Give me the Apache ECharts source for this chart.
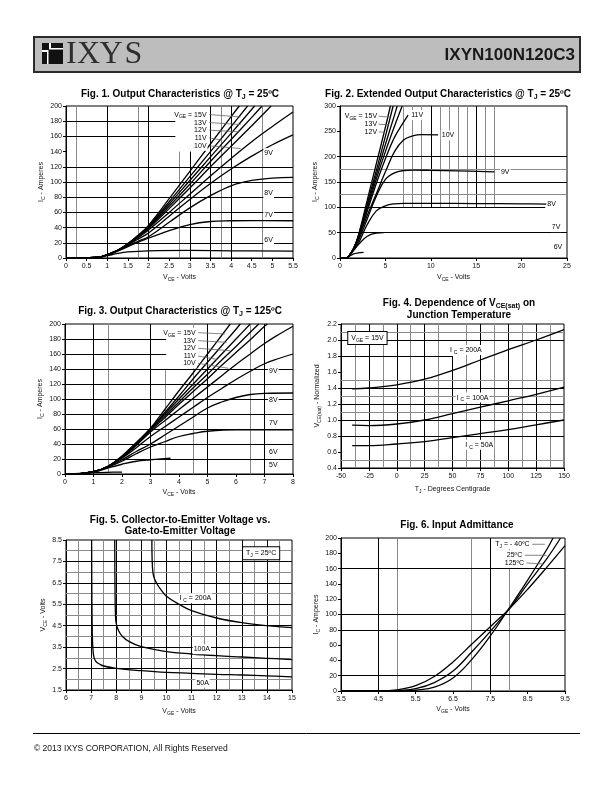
<!DOCTYPE html>
<html>
<head>
<meta charset="utf-8">
<title>IXYN100N120C3</title>
<script src="https://cdn.jsdelivr.net/npm/echarts@6/dist/echarts.min.js"></script>
<style>
html,body{margin:0;padding:0;background:#fff;}
#chart{width:612px;height:792px;}
</style>
</head>
<body>
<div id="chart"></div>
<script>
// ================= DATA =================
// Axis ranges [min, max, interval]
const fig1X = [0, 5.5, 0.5],  fig1Y = [0, 200, 20];
const fig2X = [0, 25, 5],     fig2Y = [0, 300, 50];
const fig3X = [0, 8, 1],      fig3Y = [0, 200, 20];
const fig4X = [-50, 150, 25], fig4Y = [0.4, 2.2, 0.2];
const fig5X = [6, 15, 1],     fig5Y = [1.5, 8.5, 1];
const fig6X = [3.5, 9.5, 1],  fig6Y = [0, 200, 20];

// Fig.1 Output Characteristics @ TJ = 25C  [VCE, IC]
const fig1_vge15 = [[0,0],[0.5,0.3],[0.8,1],[1,4.5],[1.25,10],[1.5,19],[1.75,30],[2,43],[2.5,78],[3,114],[3.5,150],[4,186],[4.2,200]];
const fig1_vge14 = [[0,0],[0.5,0.3],[0.8,1],[1,4.5],[1.25,10],[1.5,19],[1.75,30],[2,42],[2.5,74],[3,107],[3.5,140],[4,173],[4.4,200]];
const fig1_vge13 = [[0,0],[0.5,0.3],[0.8,1],[1,4.5],[1.25,10],[1.5,18.5],[1.75,29],[2,41],[2.5,71],[3,102],[3.5,133],[4,164],[4.57,200]];
const fig1_vge12 = [[0,0],[0.5,0.3],[0.8,1],[1,4.5],[1.25,10],[1.5,18],[1.75,28.5],[2,40],[2.5,68],[3,97],[3.5,127],[4,156],[4.5,185],[4.75,200]];
const fig1_vge11 = [[0,0],[0.5,0.3],[0.8,1],[1,4.5],[1.25,10],[1.5,18],[1.75,28],[2,39],[2.5,65],[3,92],[3.5,120],[4,147],[4.5,174],[4.97,200]];
const fig1_vge10 = [[0,0],[0.5,0.3],[0.8,1],[1,4.5],[1.25,10],[1.5,17.5],[1.75,27],[2,37],[2.5,60],[3,84],[3.5,108],[4,131],[4.5,153],[5,173],[5.5,192]];
const fig1_vge9  = [[0,0],[0.5,0.3],[0.8,1],[1,4.5],[1.25,9.5],[1.5,17],[1.75,25],[2,33],[2.5,55],[3,77],[3.5,98],[4,117],[4.5,134],[5,149],[5.5,162]];
const fig1_vge8  = [[0,0],[0.5,0.3],[0.8,1],[1,4.5],[1.25,9.5],[1.5,16],[1.75,22],[2,28],[2.5,47],[3,66],[3.5,82],[4,95],[4.5,102],[5,105],[5.5,106]];
const fig1_vge7  = [[0,0],[0.5,0.3],[0.8,1],[1,4],[1.25,9],[1.5,15],[1.75,21],[2,26],[2.5,36],[3,44],[3.5,48],[4,49],[4.5,49.3],[5.5,49]];
const fig1_vge6  = [[0,0],[0.5,0.3],[0.8,0.8],[1,3],[1.25,6],[1.5,8],[2,9.5],[3,10],[4,9.5],[5.5,9]];

// Fig.2 Extended Output Characteristics @ TJ = 25C
const fig2_vge15 = [[0,0],[0.5,0.3],[0.8,1],[1,4.5],[1.5,19],[2,43],[3,114],[4,186],[5,258],[5.55,300]];
const fig2_vge14 = [[0,0],[0.5,0.3],[0.8,1],[1,4.5],[1.5,19],[2,42],[3,107],[4,173],[5,240],[5.85,300]];
const fig2_vge13 = [[0,0],[0.5,0.3],[0.8,1],[1,4.5],[1.5,18.5],[2,41],[3,102],[4,164],[5,224],[6,282],[6.3,300]];
const fig2_vge12 = [[0,0],[0.5,0.3],[0.8,1],[1,4.5],[1.5,18],[2,40],[3,97],[4,156],[5,210],[6,260],[6.85,300]];
const fig2_vge11 = [[0,0],[0.5,0.3],[0.8,1],[1,4.5],[1.5,18],[2,39],[3,92],[4,147],[5,196],[6,238],[7,268],[7.5,282]];
const fig2_vge10 = [[0,0],[0.5,0.3],[0.8,1],[1,4.5],[1.5,17.5],[2,37],[3,84],[4,127],[5,170],[6,210],[7,233],[8,241],[9,243.5],[10.8,243]];
const fig2_vge9  = [[0,0],[0.5,0.3],[0.8,1],[1,4.5],[1.5,17],[2,33],[3,77],[4,122],[5,155],[6,168],[7,172.5],[8,173.5],[10,173],[13,172],[17,170]];
const fig2_vge8  = [[0,0],[0.5,0.3],[0.8,1],[1,4.5],[1.5,16],[2,28],[3,66],[4,93],[5,103],[6,107],[7,108],[10,108],[15,107.5],[20,107],[23,106.5]];
const fig2_vge7  = [[0,0],[0.5,0.3],[0.8,1],[1,4],[1.5,15],[2,26],[3,43],[4,49],[4.8,50]];
const fig2_vge6  = [[0,0],[0.5,0.3],[0.8,0.8],[1,3],[1.5,8],[2,10],[2.6,11]];

// Fig.3 Output Characteristics @ TJ = 125C
const fig3_vge15 = [[0,0],[0.5,0.5],[1,3],[1.5,10],[2,24],[2.5,42],[3,61],[3.5,86],[4,111],[4.5,135],[5,160],[5.5,185],[5.8,200]];
const fig3_vge14 = [[0,0],[0.5,0.5],[1,3],[1.5,10],[2,23.5],[2.5,41],[3,60],[3.5,82],[4,104],[4.5,127],[5,149],[5.5,171],[6,193],[6.15,200]];
const fig3_vge13 = [[0,0],[0.5,0.5],[1,3],[1.5,10],[2,23],[2.5,41],[3,60],[3.5,80],[4,100],[4.5,120],[5,140],[5.5,160],[6,180],[6.5,200]];
const fig3_vge12 = [[0,0],[0.5,0.5],[1,3],[1.5,10],[2,23],[2.5,40],[3,59],[3.5,77.5],[4,96],[4.5,115],[5,133],[5.5,152],[6,170],[6.5,189],[6.8,200]];
const fig3_vge11 = [[0,0],[0.5,0.5],[1,3],[1.5,10],[2,22.5],[2.5,39],[3,58],[3.5,75],[4,93],[4.5,110],[5,127],[5.5,145],[6,162],[6.5,179],[7,197],[7.1,200]];
const fig3_vge10 = [[0,0],[0.5,0.5],[1,3],[1.5,10],[2,22],[2.5,38],[3,56],[3.5,71],[4,86],[4.5,101],[5,116],[5.5,131],[6,146],[6.5,160],[7,174],[7.5,186],[8,197]];
const fig3_vge9  = [[0,0],[0.5,0.5],[1,3],[1.5,10],[2,21],[2.5,35],[3,50],[3.5,63],[4,76],[4.5,89],[5,102],[5.5,114],[6,126],[6.5,137],[7,147],[7.5,154],[8,160]];
const fig3_vge8  = [[0,0],[0.5,0.5],[1,3],[1.5,9],[2,19],[2.5,30],[3,40],[3.5,52],[4,64],[4.5,76],[5,88],[5.5,96],[6,102],[6.5,106],[7,107.5],[8,108]];
const fig3_vge7  = [[0,0],[0.5,0.5],[1,3],[1.5,9],[2,17],[2.5,27],[3,36],[3.5,43],[4,50],[4.5,54],[5,57],[6,59],[8,59]];
const fig3_vge6  = [[0,0],[0.5,0.5],[1,2.5],[1.5,8],[2,13],[2.5,17],[3,19],[3.5,20.5],[3.7,21]];
const fig3_vge5  = [[0,0],[0.5,0.8],[1,1.8],[1.5,2.3],[2,2.5]];

// Fig.4 VCE(sat) normalized vs TJ  [TJ, normalized]
const fig4_ic200 = [[-40,1.39],[-25,1.40],[0,1.44],[25,1.51],[50,1.62],[75,1.75],[100,1.88],[125,2.00],[150,2.13]];
const fig4_ic100 = [[-40,0.935],[-25,0.93],[0,0.95],[25,1.00],[50,1.08],[75,1.16],[100,1.24],[125,1.32],[150,1.41]];
const fig4_ic50  = [[-40,0.68],[-25,0.68],[0,0.70],[25,0.73],[50,0.78],[75,0.83],[100,0.88],[125,0.94],[150,1.00]];

// Fig.5 VCE vs VGE  [VGE, VCE]
const fig5_ic200 = [[9.42,8.5],[9.43,7.6],[9.46,7.0],[9.52,6.7],[9.65,6.4],[9.8,6.15],[10,5.88],[10.5,5.5],[11,5.2],[12,4.86],[13,4.64],[14,4.5],[15,4.41]];
const fig5_ic100 = [[7.94,8.5],[7.95,6.5],[7.97,5.0],[8.0,4.6],[8.1,4.25],[8.25,4.0],[8.5,3.77],[9,3.52],[10,3.29],[11,3.18],[12,3.10],[13,3.04],[14,2.98],[15,2.92]];
const fig5_ic50  = [[7.02,8.5],[7.03,6],[7.05,4.0],[7.08,3.3],[7.12,3.0],[7.2,2.82],[7.35,2.7],[7.5,2.62],[8,2.51],[9,2.40],[10,2.32],[11,2.28],[12,2.23],[13,2.20],[14,2.16],[15,2.11]];

// Fig.6 Input admittance  [VGE, IC]
const fig6_tjm40 = [[3.5,0],[5.2,0],[5.5,1],[6,5],[6.5,17],[7,41],[7.5,72],[8,108],[8.5,145],[9,184],[9.18,200]];
const fig6_tj25  = [[3.5,0],[4.8,0],[5,0.5],[5.5,3],[6,11],[6.5,26],[7,51],[7.5,78],[8,107],[8.5,140],[9,172],[9.38,200]];
const fig6_tj125 = [[3.5,0],[4.5,0],[5,1.5],[5.5,7],[6,19],[6.5,38],[7,61],[7.5,84],[8,107],[8.5,133],[9,161],[9.5,190]];

// ================= STYLE / LAYOUT =================
const NF = '"Liberation Sans", Arial, sans-serif';
const TF = '"Liberation Sans Narrow", "Arial Narrow", "Liberation Sans", Arial, sans-serif';
const INK = '#111';
const GRAY = '#8a8a8a';

const rich = {
  n: {fontSize: 7, fontFamily: NF, color: INK, lineHeight: 10},
  s: {fontSize: 5, fontFamily: NF, color: INK, lineHeight: 4, verticalAlign: 'bottom'}
};
const trich = {
  t: {fontSize: 10, fontWeight: 'bold', fontFamily: TF, color: '#000', lineHeight: 13},
  ts: {fontSize: 7, fontWeight: 'bold', fontFamily: TF, color: '#000', lineHeight: 5, verticalAlign: 'bottom'}
};

const gridBoxes = [
  {left: 66,  top: 106, width: 227, height: 152},
  {left: 340, top: 106, width: 227, height: 152},
  {left: 65,  top: 324, width: 228, height: 150},
  {left: 341, top: 324, width: 223, height: 144},
  {left: 66,  top: 540, width: 226, height: 150},
  {left: 341, top: 538, width: 224, height: 153}
];

const ranges = [[fig1X, fig1Y], [fig2X, fig2Y], [fig3X, fig3Y], [fig4X, fig4Y], [fig5X, fig5Y], [fig6X, fig6Y]];
const xNames = ['{n|V}{s|CE}{n| - Volts}', '{n|V}{s|CE}{n| - Volts}', '{n|V}{s|CE}{n| - Volts}',
  '{n|T}{s|J}{n| - Degrees Centigrade}', '{n|V}{s|GE}{n| - Volts}', '{n|V}{s|GE}{n| - Volts}'];
const yNames = ['{n|I}{s|C}{n| - Amperes}', '{n|I}{s|C}{n| - Amperes}', '{n|I}{s|C}{n| - Amperes}',
  '{n|V}{s|CE(sat)}{n| - Normalized}', '{n|V}{s|CE}{n| - Volts}', '{n|I}{s|C}{n| - Amperes}'];
const xGaps = [14, 14, 13, 16, 16, 13];
const yGaps = [20, 16, 19, 19, 18, 18];
const yFormat = [null, null, null, v => v.toFixed(1), v => v.toFixed(1), null];

// grid-line spec: [direction, value, colour(k/g), from, to]
const fig1Lines = [
  ...[1, 2, 3.5, 4].map(v => ['v', v, 'k']),
  ...[0.25, 1.75, 3.75, 4.75].map(v => ['v', v, 'g']),
  ['v', 3, 'k', 0, 140], ['v', 2.75, 'g', 0, 140],
  ...[20, 40, 60, 80, 100, 120].map(v => ['h', v, 'k']),
  ['h', 160, 'k', 0, 2.65], ['h', 180, 'k', 0, 2.65]
];
const fig2Lines = [
  ...[7, 8, 9, 11, 12, 13, 14, 16, 17].map(v => ['v', v, 'g', 100, 300]),
  ...[10, 15].map(v => ['v', v, 'k', 100, 300]),
  ...[200, 150, 50].map(v => ['h', v, 'k']),
  ['h', 100, 'k', 0, 22.6],
  ...[175, 125].map(v => ['h', v, 'g'])
];
const fig3Lines = [
  ...[1, 3, 5, 7].map(v => ['v', v, 'k']),
  ...[1.5, 4.5, 6.5].map(v => ['v', v, 'g']),
  ['v', 3.5, 'g', 0, 140],
  ...[20, 40, 60, 80, 100, 120, 140].map(v => ['h', v, 'k']),
  ['h', 160, 'k', 0, 3.55], ['h', 180, 'k', 0, 3.55]
];
const fig4Lines = [
  ...[-25, 0, 25, 75, 100, 125].map(v => ['v', v, 'k']),
  ['v', 50, 'k', 0.4, 1.8],
  ...[-37.5, -12.5, 12.5, 37.5, 62.5, 87.5, 112.5, 137.5].map(v => ['v', v, 'g']),
  ...[0.8, 1.0, 1.2, 1.4, 2.0].map(v => ['h', v, 'k']),
  ['h', 1.8, 'k', -50, 50],
  ...[0.5, 1.1, 1.3, 1.5, 2.1].map(v => ['h', v, 'g'])
];
const fig5Lines = [
  ...[7, 8, 9, 10, 11, 12, 13, 14].map(v => ['v', v, 'k']),
  ...[6.5, 7.5, 8.5, 9.5, 10.5, 11.5, 12.5, 13.5, 14.5].map(v => ['v', v, 'g']),
  ...[2.5, 3.5, 4.5, 5.5, 6.5, 7.5].map(v => ['h', v, 'k']),
  ...[2, 3, 4, 5, 6, 7, 8].map(v => ['h', v, 'g'])
];
const fig6Lines = [
  ...[4.5, 7.5].map(v => ['v', v, 'k']),
  ...[5, 7, 8].map(v => ['v', v, 'g']),
  ...[20, 80, 100, 160].map(v => ['h', v, 'k'])
];
const allLines = [fig1Lines, fig2Lines, fig3Lines, fig4Lines, fig5Lines, fig6Lines];

const allCurves = [
  [fig1_vge15, fig1_vge14, fig1_vge13, fig1_vge12, fig1_vge11, fig1_vge10, fig1_vge9, fig1_vge8, fig1_vge7, fig1_vge6],
  [fig2_vge15, fig2_vge14, fig2_vge13, fig2_vge12, fig2_vge11, fig2_vge10, fig2_vge9, fig2_vge8, fig2_vge7, fig2_vge6],
  [fig3_vge15, fig3_vge14, fig3_vge13, fig3_vge12, fig3_vge11, fig3_vge10, fig3_vge9, fig3_vge8, fig3_vge7, fig3_vge6, fig3_vge5],
  [fig4_ic200, fig4_ic100, fig4_ic50],
  [fig5_ic200, fig5_ic100, fig5_ic50],
  [fig6_tjm40, fig6_tj25, fig6_tj125]
];

// ================= BUILD =================
const grid = gridBoxes.map(b => Object.assign({show: true, borderColor: '#000', borderWidth: 1,
  backgroundColor: 'transparent', containLabel: false, outerBoundsMode: 'none'}, b));

const xAxis = ranges.map(([xr], i) => ({
  type: 'value', gridIndex: i, min: xr[0], max: xr[1], interval: xr[2],
  axisLine: {show: true, onZero: false, lineStyle: {color: '#000', width: 1}},
  axisTick: {show: true, length: 3, lineStyle: {color: '#000'}},
  axisLabel: {fontSize: 7, fontFamily: NF, color: INK, margin: 5, showMinLabel: true, showMaxLabel: true},
  splitLine: {show: false},
  name: xNames[i], nameLocation: 'middle', nameGap: xGaps[i],
  nameTextStyle: {rich: rich, fontSize: 7, color: INK}
}));
const yAxis = ranges.map(([, yr], i) => ({
  type: 'value', gridIndex: i, min: yr[0], max: yr[1], interval: yr[2],
  axisLine: {show: true, onZero: false, lineStyle: {color: '#000', width: 1}},
  axisTick: {show: true, length: 3, lineStyle: {color: '#000'}},
  axisLabel: Object.assign({fontSize: 7, fontFamily: NF, color: INK, margin: 4, showMinLabel: true, showMaxLabel: true},
    yFormat[i] ? {formatter: yFormat[i]} : {}),
  splitLine: {show: false},
  name: yNames[i], nameLocation: 'middle', nameGap: yGaps[i], nameRotate: 90,
  nameTextStyle: {rich: rich, fontSize: 7, color: INK}
}));

const series = [];
allLines.forEach((spec, i) => {
  const [xr, yr] = ranges[i];
  const data = spec.map(([d, v, c, a, b]) => {
    const ls = {color: c === 'k' ? '#000' : GRAY, width: 1, type: 'solid'};
    if (d === 'v') return [{coord: [v, a ?? yr[0]], lineStyle: ls}, {coord: [v, b ?? yr[1]]}];
    return [{coord: [a ?? xr[0], v], lineStyle: ls}, {coord: [b ?? xr[1], v]}];
  });
  series.push({
    type: 'line', xAxisIndex: i, yAxisIndex: i, data: [], z: 1, silent: true, animation: false,
    markLine: {silent: true, symbol: ['none', 'none'], animation: false, label: {show: false},
      lineStyle: {type: 'solid', width: 1}, emphasis: {disabled: true}, data: data}
  });
});
allCurves.forEach((list, i) => {
  list.forEach(d => series.push({
    type: 'line', xAxisIndex: i, yAxisIndex: i, data: d, showSymbol: false, symbol: 'none',
    smooth: 0.4,
    lineStyle: {color: '#000', width: 1.3}, z: 5, silent: true, animation: false, clip: true
  }));
});

const chart = echarts.init(document.getElementById('chart'), null, {renderer: 'canvas', width: 612, height: 792});
chart.setOption({animation: false, grid, xAxis, yAxis, series});

// ================= ANNOTATIONS =================
const VGE = '{n|V}{s|GE}{n| = 15V}';
const fig1Labels = [
  [3.43, 188.7, VGE, 'right'], [3.43, 178.2, '{n|13V}', 'right'], [3.43, 168.2, '{n|12V}', 'right'],
  [3.43, 158, '{n|11V}', 'right'], [3.43, 147.6, '{n|10V}', 'right'],
  [4.91, 138, '{n|9V}'], [4.91, 85.5, '{n|8V}'], [4.91, 56.7, '{n|7V}'], [4.91, 24, '{n|6V}']
];
const fig1Leaders = [[3.47, 188.7, 4.23, 185.6], [3.47, 178.2, 4.23, 175.6], [3.47, 168.2, 4.19, 166], [3.47, 158, 3.78, 155], [3.47, 147.6, 4.23, 144]];
const fig2Labels = [
  [4.19, 279.8, VGE, 'right'], [4.19, 264, '{n|13V}', 'right'], [4.19, 249, '{n|12V}', 'right'],
  [8.5, 282, '{n|11V}'], [11.9, 242, '{n|10V}'], [18.2, 169, '{n|9V}'], [23.3, 107, '{n|8V}'],
  [23.8, 61, '{n|7V}'], [24.0, 21.6, '{n|6V}']
];
const fig2Leaders = [[4.25, 279.8, 5.55, 278], [4.25, 264, 5.35, 263], [4.25, 249, 4.95, 248]];
const fig3Labels = [
  [4.62, 188.4, VGE, 'right'], [4.62, 177.8, '{n|13V}', 'right'], [4.62, 167.6, '{n|12V}', 'right'],
  [4.62, 157.3, '{n|11V}', 'right'], [4.62, 147.6, '{n|10V}', 'right'],
  [7.31, 137.8, '{n|9V}'], [7.31, 98.7, '{n|8V}'], [7.31, 67.6, '{n|7V}'], [7.31, 29.8, '{n|6V}'], [7.31, 12, '{n|5V}']
];
const fig3Leaders = [[4.67, 188.4, 5.61, 186.7], [4.67, 177.8, 5.67, 175.6], [4.67, 167.6, 5.79, 164.4], [4.67, 157.3, 5.32, 152.9], [4.67, 147.6, 5.73, 141]];
const fig4Labels = [
  [62, 1.875, '{n|I }{s|C}{n| = 200A}'], [68, 1.28, '{n|I }{s|C}{n| = 100A}'], [74, 0.69, '{n|I }{s|C}{n| = 50A}'],
  [-26.3, 2.025, VGE, 'center', true]
];
const fig5Labels = [
  [11.15, 5.78, '{n|I }{s|C}{n| = 200A}'], [11.41, 3.40, '{n|100A}'], [11.44, 1.84, '{n|50A}'],
  [13.77, 7.88, '{n|T}{s|J}{n| = 25ºC}', 'center', true]
];
const fig6Labels = [
  [8.58, 191.8, '{n|T}{s|J}{n| = - 40ºC}', 'right'], [8.38, 177.4, '{n|25ºC}', 'right'], [8.43, 167.4, '{n|125ºC}', 'right']
];
const fig6Leaders = [[8.62, 191.8, 8.96, 191.8], [8.42, 177.4, 9.01, 177.4], [8.47, 167.4, 8.92, 166]];

const allLabels = [fig1Labels, fig2Labels, fig3Labels, fig4Labels, fig5Labels, fig6Labels];
const allLeaders = [fig1Leaders, fig2Leaders, fig3Leaders, [], [], fig6Leaders];

const graphic = [];
// header
graphic.push({type: 'rect', shape: {x: 34, y: 37, width: 546, height: 35}, style: {fill: '#bdbdbd', stroke: '#2b2b2b', lineWidth: 2}, z: 100});
graphic.push({type: 'rect', shape: {x: 42, y: 43, width: 21, height: 21}, style: {fill: '#fff'}, z: 101});
[[42, 43, 7, 7], [51, 43, 12, 5], [42, 52, 5, 12], [48.5, 49.5, 14.5, 14.5]].forEach(r =>
  graphic.push({type: 'rect', shape: {x: r[0], y: r[1], width: r[2], height: r[3]}, style: {fill: '#111'}, z: 102}));
[['I', 66], ['X', 77], ['Y', 99.5], ['S', 124.5]].forEach(([ch, x]) =>
  graphic.push({type: 'text', x: x, y: 55, style: {text: ch, fill: '#2e2e2e', font: 'normal 32px "Liberation Serif", "Times New Roman", serif', verticalAlign: 'middle', align: 'left'}, z: 102}));
graphic.push({type: 'text', x: 575, y: 55, style: {text: 'IXYN100N120C3', fill: '#1a1a1a', font: 'bold 17px "Liberation Sans", Arial, sans-serif', verticalAlign: 'middle', align: 'right'}, z: 102});

// titles
const titles = [
  [180, 94, '{t|Fig. 1. Output Characteristics @ T}{ts|J}{t| = 25ºC}'],
  [448, 94, '{t|Fig. 2. Extended Output Characteristics @ T}{ts|J}{t| = 25ºC}'],
  [180, 311, '{t|Fig. 3. Output Characteristics @ T}{ts|J}{t| = 125ºC}'],
  [459, 303, '{t|Fig. 4. Dependence of V}{ts|CE(sat)}{t| on}'],
  [459, 315, '{t|Junction Temperature}'],
  [180, 520, '{t|Fig. 5. Collector-to-Emitter Voltage vs.}'],
  [180, 531, '{t|Gate-to-Emitter Voltage}'],
  [457, 525, '{t|Fig. 6. Input Admittance}']
];
titles.forEach(([x, y, t]) => graphic.push({type: 'text', x, y, style: {text: t, rich: trich, align: 'center', verticalAlign: 'middle'}, z: 100}));

// footer
graphic.push({type: 'line', shape: {x1: 33, y1: 733.5, x2: 580, y2: 733.5}, style: {stroke: '#000', lineWidth: 1}, z: 100});
graphic.push({type: 'text', x: 34, y: 749, style: {text: '© 2013 IXYS CORPORATION, All Rights Reserved', fill: '#111', font: 'normal 8.5px "Liberation Sans", Arial, sans-serif', verticalAlign: 'middle', align: 'left'}, z: 100});

// in-plot labels and leaders
allLeaders.forEach((list, i) => list.forEach(([x1, y1, x2, y2]) => {
  const p1 = chart.convertToPixel({gridIndex: i}, [x1, y1]);
  const p2 = chart.convertToPixel({gridIndex: i}, [x2, y2]);
  graphic.push({type: 'line', shape: {x1: p1[0], y1: p1[1], x2: p2[0], y2: p2[1]}, style: {stroke: '#666', lineWidth: 0.8}, z: 110});
}));
allLabels.forEach((list, i) => list.forEach(([x, y, t, align, boxed]) => {
  const p = chart.convertToPixel({gridIndex: i}, [x, y]);
  graphic.push({type: 'text', x: p[0], y: p[1], z: 120, style: Object.assign({
    text: t, rich: rich, align: align || 'center', verticalAlign: 'middle',
    backgroundColor: '#fff', padding: boxed ? [1, 3, 1, 3] : [0, 1, 0, 1]
  }, boxed ? {borderColor: '#000', borderWidth: 1} : {})});
}));

chart.setOption({graphic: graphic});
</script>
</body>
</html>
